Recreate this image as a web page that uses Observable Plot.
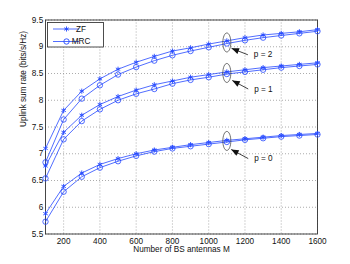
<!DOCTYPE html>
<html>
<head>
<meta charset="utf-8">
<script src="https://cdn.jsdelivr.net/npm/d3@7"></script>
<script src="https://cdn.jsdelivr.net/npm/@observablehq/plot@0.6"></script>
<style>
  html, body { margin: 0; padding: 0; background: #fff; }
  #chart { width: 350px; height: 264px; }
</style>
</head>
<body>
<div id="chart"></div>
<script>
// ---- data ----
const antennas = [100,200,300,400,500,600,700,800,900,1000,1100,1200,1300,1400,1500,1600];
const zfP2  = [7.10,7.81,8.17,8.40,8.58,8.71,8.82,8.92,8.98,9.05,9.11,9.17,9.22,9.25,9.28,9.32];
const mrcP2 = [6.84,7.64,8.03,8.28,8.48,8.62,8.74,8.84,8.92,8.99,9.06,9.12,9.17,9.21,9.25,9.29];
const zfP1  = [6.77,7.40,7.72,7.92,8.07,8.19,8.29,8.36,8.43,8.48,8.53,8.57,8.61,8.64,8.67,8.70];
const mrcP1 = [6.54,7.27,7.61,7.83,8.00,8.12,8.21,8.31,8.38,8.43,8.49,8.53,8.57,8.61,8.64,8.67];
const zfP0  = [5.88,6.39,6.64,6.80,6.91,7.00,7.07,7.12,7.17,7.21,7.25,7.28,7.31,7.34,7.36,7.38];
const mrcP0 = [5.73,6.29,6.57,6.74,6.86,6.96,7.04,7.10,7.14,7.18,7.22,7.26,7.29,7.32,7.34,7.36];

const schemes = ["ZF", "MRC"];
const xTicks = [200,400,600,800,1000,1200,1400,1600];
const yTicks = [5.5,6,6.5,7,7.5,8,8.5,9,9.5];
const xLabel = "Number of BS antennas M";
const yLabel = "Uplink sum rate (bits/s/Hz)";

// annotations: ellipse centre at M=1100, arrow from label to ellipse
const annLabels = ["p = 2", "p = 1", "p = 0"];
const annEllipseY = [9.08, 8.51, 7.24];
const annArrowHead = [[1126, 8.97], [1130, 8.37], [1124, 7.08]];
const annArrowTail = [[1216, 8.85], [1218, 8.21], [1218, 6.91]];
const annEllipseX = 1100;

// ---- build table ----
const seriesDefs = [
  {scheme: "ZF", p: 2, v: zfP2}, {scheme: "MRC", p: 2, v: mrcP2},
  {scheme: "ZF", p: 1, v: zfP1}, {scheme: "MRC", p: 1, v: mrcP1},
  {scheme: "ZF", p: 0, v: zfP0}, {scheme: "MRC", p: 0, v: mrcP0}
];
const rows = seriesDefs.flatMap(s => antennas.map((m, i) => ({M: m, rate: s.v[i], scheme: s.scheme, key: s.scheme + s.p})));
const ann = annLabels.map((t, i) => ({
  label: t, ex: annEllipseX, ey: annEllipseY[i],
  x1: annArrowTail[i][0], y1: annArrowTail[i][1],
  x2: annArrowHead[i][0], y2: annArrowHead[i][1]
}));

const blue = "#2448ff";
const font = "Liberation Sans, Arial, Helvetica, sans-serif";
const fs = 8.2;

const ellipseSymbol = {
  draw(ctx) {
    const rx = 4, ry = 9.5, k = 0.5523;
    ctx.moveTo(rx, 0);
    ctx.bezierCurveTo(rx, ry * k, rx * k, ry, 0, ry);
    ctx.bezierCurveTo(-rx * k, ry, -rx, ry * k, -rx, 0);
    ctx.bezierCurveTo(-rx, -ry * k, -rx * k, -ry, 0, -ry);
    ctx.bezierCurveTo(rx * k, -ry, rx, -ry * k, rx, 0);
    ctx.closePath();
  }
};

function arrowMarker(color, context) {
  const ns = "http://www.w3.org/2000/svg";
  const m = document.createElementNS(ns, "marker");
  m.setAttribute("viewBox", "-8 -4 9 8");
  m.setAttribute("markerWidth", 9);
  m.setAttribute("markerHeight", 8);
  m.setAttribute("markerUnits", "userSpaceOnUse");
  m.setAttribute("orient", "auto");
  m.setAttribute("refX", 0);
  m.setAttribute("refY", 0);
  const p = document.createElementNS(ns, "path");
  p.setAttribute("d", "M0,0L-7.5,-3L-7.5,3Z");
  p.setAttribute("fill", "#111");
  p.setAttribute("stroke", "none");
  m.appendChild(p);
  return m;
}

const chart = Plot.plot({
  width: 350,
  height: 264,
  marginLeft: 45,
  marginRight: 33,
  marginTop: 19.5,
  marginBottom: 30.5,
  style: {fontFamily: font, fontSize: fs + "px", background: "#fff", color: "#111"},
  x: {domain: [100, 1600]},
  y: {domain: [5.5, 9.5]},
  marks: [
    Plot.gridX(xTicks, {stroke: "#888", strokeOpacity: 1, strokeDasharray: "1,2", strokeWidth: 0.7}),
    Plot.gridY(yTicks, {stroke: "#888", strokeOpacity: 1, strokeDasharray: "1,2", strokeWidth: 0.7}),
    Plot.frame({stroke: "#333", strokeWidth: 0.9}),
    Plot.axisX(xTicks, {tickSize: 0, tickPadding: 4.2, tickFormat: d => String(d), label: null, fontSize: fs}),
    Plot.axisY(yTicks, {tickSize: 0, tickPadding: 2.3, tickFormat: d => String(d), label: null, fontSize: fs}),
    Plot.text([xLabel], {text: d => d, frameAnchor: "bottom", dy: 17.8, fontSize: fs}),
    Plot.text([yLabel], {text: d => d, frameAnchor: "left", dx: -22, rotate: -90, fontSize: fs}),
    Plot.line(rows, {x: "M", y: "rate", z: "key", stroke: blue, strokeWidth: 0.8}),
    Plot.dot(rows.filter(d => d.scheme === "ZF"), {x: "M", y: "rate", symbol: "asterisk", r: 2.4, stroke: blue, strokeWidth: 0.9}),
    Plot.dot(rows.filter(d => d.scheme === "MRC"), {x: "M", y: "rate", symbol: "circle", r: 2.7, stroke: blue, fill: "none", strokeWidth: 0.8}),
    Plot.dot(ann, {x: "ex", y: "ey", symbol: ellipseSymbol, stroke: "#333", fill: "none", strokeWidth: 0.7}),
    Plot.link(ann, {x1: "x1", y1: "y1", x2: "x2", y2: "y2", stroke: "#111", strokeWidth: 0.8, markerEnd: arrowMarker}),
    Plot.text(ann, {x: "x1", y: "y1", text: "label", dx: 6, textAnchor: "start", fontSize: fs})
  ]
});

document.getElementById("chart").appendChild(chart);

// ---- legend drawn inside the plot's svg ----
const svg = d3.select(chart);
const lg = svg.append("g").attr("transform", "translate(47.5,22.5)");
lg.append("rect").attr("width", 56).attr("height", 24.5).attr("fill", "#fff").attr("stroke", "#222").attr("stroke-width", 0.8);
schemes.forEach((s, i) => {
  const y = 6.5 + i * 12.5;
  const g = lg.append("g").attr("transform", `translate(0,${y})`);
  g.append("line").attr("x1", 5.5).attr("x2", 31.5).attr("y1", 0).attr("y2", 0).attr("stroke", blue).attr("stroke-width", 0.8);
  const sym = s === "ZF" ? d3.symbolAsterisk : d3.symbolCircle;
  const size = s === "ZF" ? 2.4 * 2.4 * Math.PI : 2.7 * 2.7 * Math.PI;
  g.append("path").attr("d", d3.symbol(sym, size)()).attr("transform", "translate(19,0)")
    .attr("stroke", blue).attr("fill", "none").attr("stroke-width", 0.9);
  g.append("text").attr("x", 33.5).attr("y", 0).attr("dy", "0.35em").attr("font-size", fs)
    .attr("font-family", font).attr("fill", "#111").text(s);
});
</script>
</body>
</html>
